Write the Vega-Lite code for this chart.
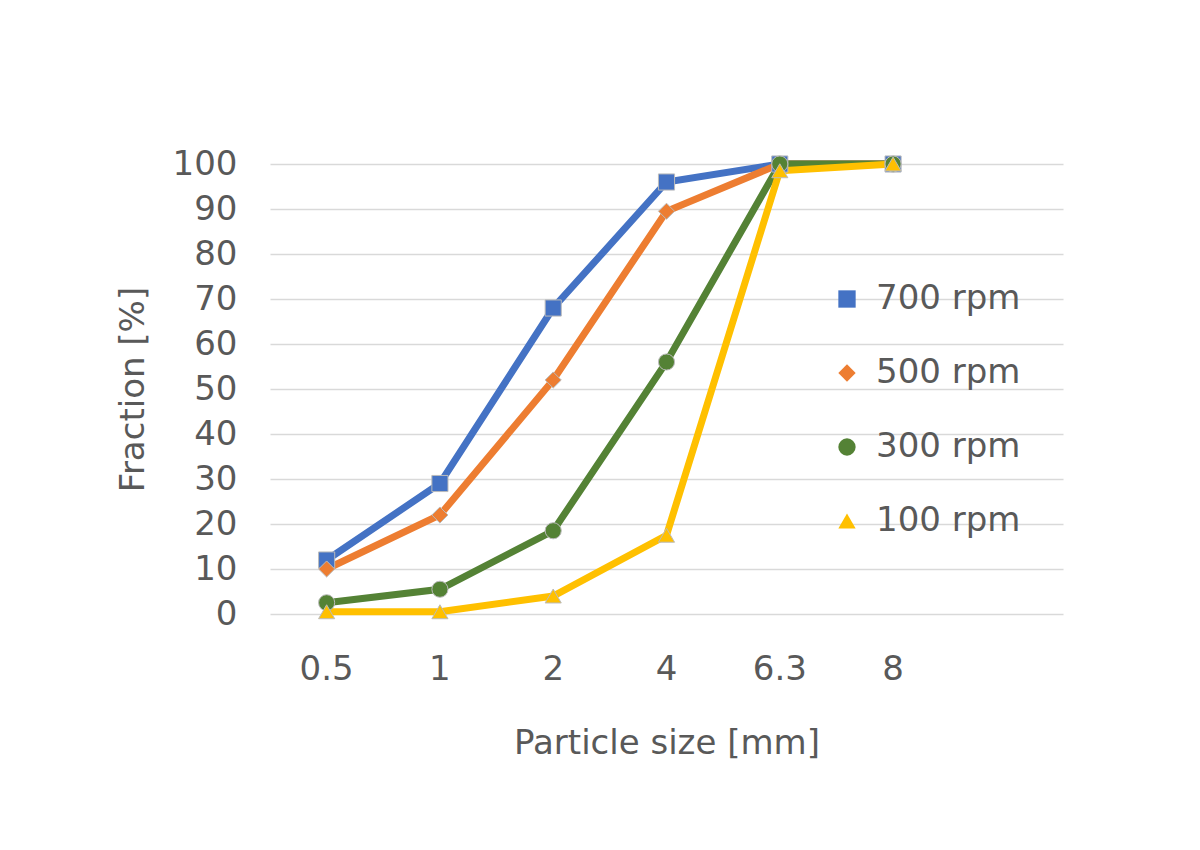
{
  "$schema": "https://vega.github.io/schema/vega-lite/v6.json",
  "width": 793,
  "height": 450,
  "autosize": "none",
  "padding": {"left": 270, "top": 164, "right": 137, "bottom": 236},
  "background": "white",
  "data": {
    "values": [
      {"size": "0.5", "series": "700 rpm", "fraction": 12},
      {"size": "1", "series": "700 rpm", "fraction": 29},
      {"size": "2", "series": "700 rpm", "fraction": 68},
      {"size": "4", "series": "700 rpm", "fraction": 96},
      {"size": "6.3", "series": "700 rpm", "fraction": 100},
      {"size": "8", "series": "700 rpm", "fraction": 100},
      {"size": "0.5", "series": "500 rpm", "fraction": 10},
      {"size": "1", "series": "500 rpm", "fraction": 22},
      {"size": "2", "series": "500 rpm", "fraction": 52},
      {"size": "4", "series": "500 rpm", "fraction": 89.5},
      {"size": "6.3", "series": "500 rpm", "fraction": 100},
      {"size": "8", "series": "500 rpm", "fraction": 100},
      {"size": "0.5", "series": "300 rpm", "fraction": 2.5},
      {"size": "1", "series": "300 rpm", "fraction": 5.5},
      {"size": "2", "series": "300 rpm", "fraction": 18.5},
      {"size": "4", "series": "300 rpm", "fraction": 56},
      {"size": "6.3", "series": "300 rpm", "fraction": 100},
      {"size": "8", "series": "300 rpm", "fraction": 100},
      {"size": "0.5", "series": "100 rpm", "fraction": 0.5},
      {"size": "1", "series": "100 rpm", "fraction": 0.5},
      {"size": "2", "series": "100 rpm", "fraction": 4},
      {"size": "4", "series": "100 rpm", "fraction": 17.5},
      {"size": "6.3", "series": "100 rpm", "fraction": 98.5},
      {"size": "8", "series": "100 rpm", "fraction": 100}
    ]
  },
  "encoding": {
    "x": {
      "field": "size", "type": "ordinal",
      "scale": {"type": "band", "domain": ["0.5", "1", "2", "4", "6.3", "8", " "], "paddingInner": 0, "paddingOuter": 0},
      "axis": {"title": "Particle size [mm]", "labelAngle": 0, "domain": false, "ticks": false, "labelPadding": 38, "titlePadding": 40}
    },
    "y": {
      "field": "fraction", "type": "quantitative",
      "scale": {"domain": [0, 100], "nice": false},
      "axis": {"title": "Fraction [%]", "values": [0,10,20,30,40,50,60,70,80,90,100], "labelOverlap": false, "domain": false, "ticks": false, "labelPadding": 33, "titlePadding": 22}
    },
    "color": {
      "field": "series", "type": "nominal",
      "scale": {"domain": ["700 rpm", "500 rpm", "300 rpm", "100 rpm"], "range": ["#4472C4", "#ED7D31", "#548235", "#FFC000"]},
      "legend": {"title": null, "orient": "none", "legendX": 560, "legendY": 118, "rowPadding": 40, "symbolSize": 300, "labelFontSize": 34, "labelOffset": 12, "symbolStrokeWidth": 0}
    }
  },
  "layer": [
    {"mark": {"type": "line", "strokeWidth": 7}},
    {
      "mark": {"type": "point", "filled": true, "size": 260, "opacity": 1, "stroke": "#bbbbbb", "strokeWidth": 1},
      "encoding": {
        "shape": {
          "field": "series", "type": "nominal",
          "scale": {"domain": ["700 rpm", "500 rpm", "300 rpm", "100 rpm"], "range": ["square", "diamond", "circle", "triangle-up"]},
          "legend": null
        }
      }
    }
  ],
  "config": {
    "font": "DejaVu Sans",
    "view": {"stroke": null},
    "axis": {"labelFontSize": 34, "titleFontSize": 34, "titleFontWeight": "normal", "labelColor": "#595959", "titleColor": "#595959", "gridColor": "#d9d9d9", "gridWidth": 1.5},
    "axisX": {"grid": false},
    "legend": {"labelColor": "#595959"}
  }
}
